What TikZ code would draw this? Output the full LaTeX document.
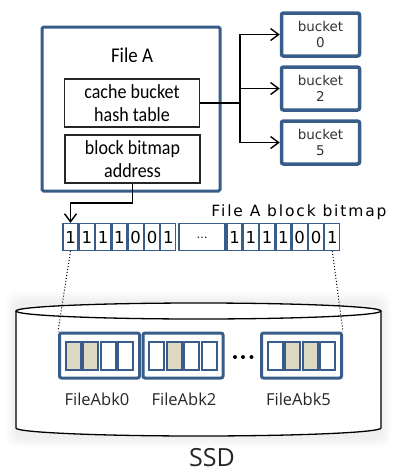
\documentclass[tikz,border=0pt]{standalone}
\usepackage{fontspec}
\setmainfont{DejaVu Sans}
\newfontfamily\condfont[FakeStretch=0.9]{Carlito}
\newfontfamily\labfont{Open Sans}
\newfontfamily\widefont[LetterSpace=12]{DejaVu Sans}
\usetikzlibrary{arrows.meta}
\definecolor{boxblue}{RGB}{56,93,138}
\definecolor{usedblk}{RGB}{221,217,195}
\begin{document}
\begin{tikzpicture}[x=1pt,y=-1pt,
  outerbox/.style={draw=boxblue, line width=3, rounded corners=1.5, inner sep=0},
  fieldbox/.style={draw=black!85, line width=1.5, inner sep=0, align=center,
    minimum width=135, minimum height=48,
    font=\condfont\fontsize{20}{23.5}\selectfont},
  bucketbox/.style={draw=boxblue, line width=3.5, rounded corners=2, inner sep=0,
    minimum width=78, minimum height=43, align=center, text=black!80,
    font=\fontsize{13.5}{16}\selectfont},
  bitcell/.style={draw=boxblue, line width=1.3, inner sep=0, minimum width=15,
    minimum height=27, font=\fontsize{16.5}{16.5}\selectfont},
  blkbox/.style={draw=boxblue, line width=3, rounded corners=2, inner sep=0,
    minimum width=80, minimum height=45},
  blkcell/.style={draw=boxblue, line width=2, inner sep=0, minimum width=15,
    minimum height=28},
  used/.style={fill=usedblk},
  link/.style={line width=1.4, draw=black},
  linkarrow/.style={link, -{Straight Barb[length=8pt,width=12pt,line width=1.4pt]}},
  blklabel/.style={anchor=base, text=black!85, font=\labfont\fontsize{16.5}{16.5}\selectfont}
]
\useasboundingbox (0,0) rectangle (394,472);

% ---------- file descriptor ----------
\node[outerbox, minimum width=178, minimum height=164] (fileA) at (131,109) {};
\node[anchor=base, font=\condfont\fontsize{21}{21}\selectfont] (fileAtitle) at (132,62) {File A};
\node[fieldbox] (hash) at (132,103) {cache bucket\\hash table};
\node[fieldbox] (addr) at (132.5,159) {block bitmap\\address};

% ---------- cache buckets ----------
\node[bucketbox] (b0) at (320.5,34.5) {bucket\\0};
\node[bucketbox] (b2) at (320.5,88.5) {bucket\\2};
\node[bucketbox] (b5) at (320.5,142.5) {bucket\\5};

\coordinate (trunk) at (240,103);
\draw[link] (hash.east) -- (trunk);
\draw[linkarrow] (trunk) |- (b0.west);
\draw[linkarrow] (trunk) |- (b2.west);
\draw[linkarrow] (trunk) |- (b5.west);

% ---------- block bitmap ----------
\node[anchor=base, font=\widefont\fontsize{15.5}{15.5}\selectfont] (bmtitle) at (299,216) {File A block bitmap};
\foreach \b [count=\i] in {1,1,1,1,0,0,1} {
  \node[bitcell] (l\i) at ({70.5+16.3*(\i-1)},237) {\b};
}
\node[bitcell, minimum width=46] (gap) at (202,237) {\fontsize{11}{11}\selectfont\raisebox{-3pt}{\dots}};
\foreach \b [count=\i] in {1,1,1,1,0,0,1} {
  \node[bitcell] (r\i) at ({234.5+16.3*(\i-1)},237) {\b};
}

\coordinate (bend) at (132.5,203);
\draw[link] (addr.south) -- (bend);
\draw[linkarrow] (bend) -| (l1.north);

% ---------- SSD ----------
\foreach \d in {10,8,...,2}
  \fill[black, opacity=0.01, rounded corners=10] (16-\d,302-\d) rectangle (381+\d,437+\d);
\path[fill=white, draw=black, line width=1.3] (16,311) -- (16,428)
  arc[start angle=180, end angle=360, x radius=182.5pt, y radius=8pt] -- (381,311);
\draw[fill=white, line width=1.3] (198.5,311) ellipse [x radius=182.5pt, y radius=8pt];

\foreach \name/\cx/\ua/\ub/\uc/\ud in {blk0/99.5/1/1/0/0, blk2/183/0/1/0/0, blk5/301.5/0/1/1/0} {
  \node[blkbox] (\name) at (\cx,355.5) {};
  \foreach \off/\u [count=\k] in {-26.4/\ua, -8.8/\ub, 8.8/\uc, 26.4/\ud} {
    \ifnum\u=1
      \node[blkcell, used] (\name-\k) at (\cx+\off,356) {};
    \else
      \node[blkcell] (\name-\k) at (\cx+\off,356) {};
    \fi
  }
}
\foreach \x/\d in {235/1, 243/2, 251.5/3}
  \fill (\x,357) circle[radius=2pt];

\node[blklabel] (lab0) at (97,405) {FileAbk0};
\node[blklabel] (lab2) at (184,405) {FileAbk2};
\node[blklabel] (lab5) at (298.5,405) {FileAbk5};
\node[anchor=base, text=black!85, font=\labfont\fontsize{25}{25}\selectfont] (ssd) at (212,466) {SSD};

\draw[dotted, line width=1] (l1.south) -- (blk0.north west);
\draw[dotted, line width=1] (r7.south) -- (blk5.north east);
\end{tikzpicture}
\end{document}
